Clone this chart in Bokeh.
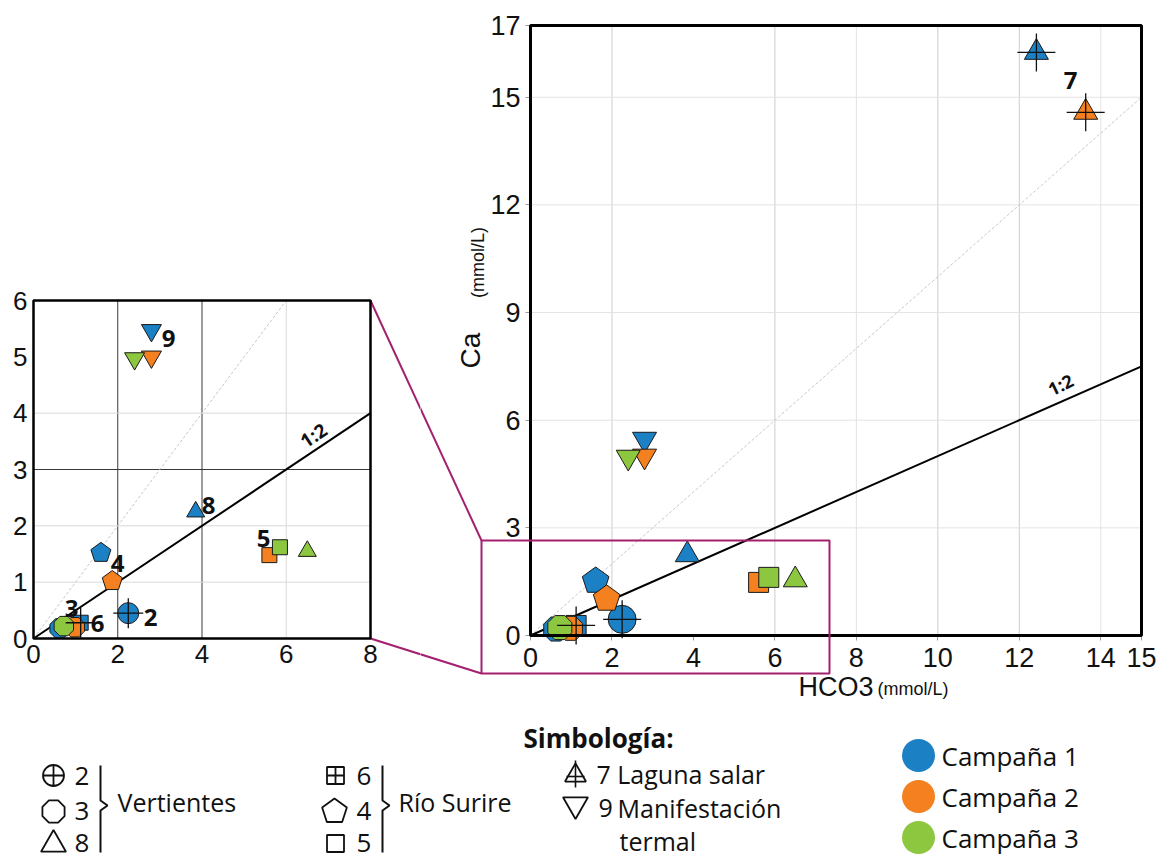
import math
from bokeh.plotting import figure
from bokeh.models import Range1d, LinearAxis, FixedTicker, BoxAnnotation
from bokeh.layouts import column, row
from bokeh.embed import file_html
from bokeh.resources import INLINE
from bokeh.core.properties import value

# ---------------- data ----------------
site     = ["2",  "3",  "3",  "3",  "8",  "8",  "6",  "4",  "4",  "5",  "5",  "7",   "7",   "9",  "9",  "9"]
campaign = [1,    1,    2,    3,    1,    3,    1,    1,    2,    2,    3,    1,     2,     1,    2,    3]
hco3     = [2.25, 0.62, 0.98, 0.72, 3.85, 6.50, 1.12, 1.60, 1.87, 5.60, 5.85, 12.42, 13.63, 2.80, 2.80, 2.40]
ca       = [0.45, 0.18, 0.20, 0.22, 2.25, 1.55, 0.28, 1.52, 1.02, 1.48, 1.62, 16.25, 14.58, 5.47, 5.00, 4.97]

campaign_names  = ["Campaña 1", "Campaña 2", "Campaña 3"]
campaign_colors = ["#1c80c4", "#f4801f", "#8dc63f"]

main_x_ticks  = [0, 2, 4, 6, 8, 10, 12, 14, 15]
main_y_ticks  = [0, 3, 6, 9, 12, 15, 17]
inset_x_ticks = [0, 2, 4, 6, 8]
inset_y_ticks = [0, 1, 2, 3, 4, 5, 6]
main_xmax, main_ymax = 15, 17
inset_xmax, inset_ymax = 8, 6

main_vgrid_dark  = [2, 6, 10, 12]
main_vgrid_light = [8, 14]
main_hgrid       = [3, 6, 9, 12, 15]
inset_vgrid_dark  = [2, 4]
inset_vgrid_light = [6]
inset_hgrid_dark  = [3]
inset_hgrid_light = [1, 2, 4]

ratio_11 = 1.0
ratio_12 = 0.5

site_shape = {"2": "circle", "3": "octagon", "8": "triangle", "6": "square",
              "4": "pentagon", "5": "square", "7": "triangle", "9": "inverted_triangle"}
crossed_sites = ["2", "6", "7"]

TICK_FONT = "Liberation Sans"
TXT_FONT = "Open Sans"
OUT = "#1a1a1a"
MAGENTA = "#a3206f"


class Frame:
    """maps page pixels to data values, given the pixel positions of two data values"""
    def __init__(self, px_a, px_b, xa, xb, py_a, py_b, ya, yb):
        self.px_a, self.xa = px_a, xa
        self.py_a, self.ya = py_a, ya
        self.sx = (px_b - px_a) / (xb - xa)
        self.sy = (py_a - py_b) / (yb - ya)

    def x(self, px):
        return self.xa + (px - self.px_a) / self.sx

    def y(self, py):
        return self.ya + (self.py_a - py) / self.sy


MAIN = Frame(530, 1141, 0, main_xmax, 635, 25, 0, main_ymax)
INSET = Frame(33, 370, 0, inset_xmax, 638, 300, 0, inset_ymax)
LEFT, SPLIT, RIGHT = 0, 420, 1161
TOP, BOTTOM, PAGE_BOTTOM = 0, 712, 858


def make_fig(fr, left, right):
    p = figure(width=right - left, height=BOTTOM - TOP,
               x_range=Range1d(fr.x(left), fr.x(right)),
               y_range=Range1d(fr.y(BOTTOM), fr.y(TOP)),
               x_axis_type=None, y_axis_type=None,
               output_backend="svg", toolbar_location=None, min_border=0)
    p.outline_line_color = None
    p.background_fill_color = "white"
    p.border_fill_color = "white"
    return p


def add_axes(p, xticks, yticks, font_size, tick_out, xstand, ystand):
    xa = LinearAxis(fixed_location=0, ticker=FixedTicker(ticks=xticks))
    ya = LinearAxis(fixed_location=0, ticker=FixedTicker(ticks=yticks))
    for a in (xa, ya):
        a.axis_line_color = None
        a.major_tick_in = 0
        a.major_tick_out = tick_out
        a.major_tick_line_color = "#9a9a9a"
        a.minor_tick_line_color = None
        a.major_label_text_font = TICK_FONT
        a.major_label_text_font_size = font_size
        a.major_label_text_color = "#111111"
    xa.major_label_standoff = xstand
    ya.major_label_standoff = ystand
    p.add_layout(xa, "below")
    p.add_layout(ya, "left")


def add_grid(p, xmax, ymax, vdark, vlight, hdark, hlight, dark, light):
    for vals, col in ((vlight, light), (vdark, dark)):
        if vals:
            p.segment(x0=vals, y0=[0] * len(vals), x1=vals, y1=[ymax] * len(vals),
                      line_color=col, line_width=1)
    for vals, col in ((hlight, light), (hdark, dark)):
        if vals:
            p.segment(x0=[0] * len(vals), y0=vals, x1=[xmax] * len(vals), y1=vals,
                      line_color=col, line_width=1)
    # 1:1 reference (faint dashed)
    x_end = min(xmax, ymax / ratio_11)
    p.line([0, x_end], [0, x_end * ratio_11], line_color="#c8c8c8", line_width=1, line_dash="3 2")
    # 1:2 reference
    x_end = min(xmax, ymax / ratio_12)
    p.line([0, x_end], [0, x_end * ratio_12], line_color="black", line_width=2)


def draw_points(p, sizes, ngon_r, cross_size, line_w=1):
    n = len(site)
    for c in (1, 2, 3):
        color = campaign_colors[c - 1]
        for shape in ("circle", "octagon", "triangle", "square", "pentagon", "inverted_triangle"):
            idx = [i for i in range(n) if campaign[i] == c and site_shape[site[i]] == shape]
            if not idx:
                continue
            xs = [hco3[i] for i in idx]
            ys = [ca[i] for i in idx]
            if shape in ("octagon", "pentagon"):
                nn = 8 if shape == "octagon" else 5
                ang = math.pi / 8 if shape == "octagon" else 0
                p.ngon(x=xs, y=ys, radius=ngon_r[shape], radius_units="screen", n=nn, angle=ang,
                       fill_color=color, line_color=OUT, line_width=line_w)
            else:
                p.scatter(x=xs, y=ys, marker=shape, size=sizes[shape],
                          fill_color=color, line_color=OUT, line_width=line_w)
    idx = [i for i in range(n) if site[i] in crossed_sites]
    p.scatter(x=[hco3[i] for i in idx], y=[ca[i] for i in idx], marker="cross",
              size=cross_size, line_color="#111111", line_width=1.3)


def frame_box(xmax, ymax, width):
    return BoxAnnotation(left=0, right=xmax, bottom=0, top=ymax, fill_alpha=0,
                         line_color="black", line_alpha=1.0, line_width=width)


# ---------------- inset (zoom of the low range) ----------------
inset = make_fig(INSET, LEFT, SPLIT)
add_grid(inset, inset_xmax, inset_ymax, inset_vgrid_dark, inset_vgrid_light,
         inset_hgrid_dark, inset_hgrid_light, "#3a3a3a", "#d9d9d9")
draw_points(inset, {"circle": 21, "triangle": 18, "square": 15, "inverted_triangle": 20},
            {"octagon": 10.5, "pentagon": 10.5}, 30)
add_axes(inset, inset_x_ticks, inset_y_ticks, "26px", 0, 6, 6)
inset.add_layout(frame_box(inset_xmax, inset_ymax, 2.5))

inset_lbl_text = ["9", "8", "5", "4", "3", "6", "2"]
inset_lbl_px = [(168, 338), (208, 505), (263, 538), (117, 563), (71, 608), (97, 623), (150, 617)]
inset.text(x=[INSET.x(a) for a, b in inset_lbl_px], y=[INSET.y(b) for a, b in inset_lbl_px],
           text=inset_lbl_text, text_font=value(TXT_FONT), text_font_style="bold",
           text_font_size="24px", text_align="center", text_baseline="middle", text_color="#111111")
inset.text(x=[INSET.x(313)], y=[INSET.y(435)], text=["1:2"], angle=0.59,
           text_font=value(TXT_FONT), text_font_style="bold", text_font_size="19px",
           text_align="center", text_baseline="middle", text_color="#111111")

# connectors of the zoom box (drawn in both figures, each clips to its own part)
conn_px = [((370, 300), (481, 540)), ((370, 638), (481, 673))]
inset.segment(x0=[INSET.x(a[0]) for a, b in conn_px], y0=[INSET.y(a[1]) for a, b in conn_px],
              x1=[INSET.x(b[0]) for a, b in conn_px], y1=[INSET.y(b[1]) for a, b in conn_px],
              line_color=MAGENTA, line_width=2)

# ---------------- main chart ----------------
main = make_fig(MAIN, SPLIT, RIGHT)
add_grid(main, main_xmax, main_ymax, main_vgrid_dark, main_vgrid_light,
         [], main_hgrid, "#cdcdcd", "#e3e3e3")
draw_points(main, {"circle": 28, "triangle": 24, "square": 20, "inverted_triangle": 24},
            {"octagon": 13, "pentagon": 14}, 38)
add_axes(main, main_x_ticks, main_y_ticks, "27px", 5, 7, 5)
main.add_layout(frame_box(main_xmax, main_ymax, 3))
main.add_layout(BoxAnnotation(left=MAIN.x(481), right=MAIN.x(829), bottom=MAIN.y(673), top=MAIN.y(540),
                              fill_alpha=0, line_color=MAGENTA, line_alpha=1.0, line_width=2))
main.segment(x0=[MAIN.x(a[0]) for a, b in conn_px], y0=[MAIN.y(a[1]) for a, b in conn_px],
             x1=[MAIN.x(b[0]) for a, b in conn_px], y1=[MAIN.y(b[1]) for a, b in conn_px],
             line_color=MAGENTA, line_width=2)

main.text(x=[MAIN.x(1070)], y=[MAIN.y(80)], text=["7"], text_font=value(TXT_FONT),
          text_font_style="bold", text_font_size="24px", text_align="center",
          text_baseline="middle", text_color="#111111")
main.text(x=[MAIN.x(1060)], y=[MAIN.y(384)], text=["1:2"], angle=0.45,
          text_font=value(TXT_FONT), text_font_style="bold", text_font_size="18px",
          text_align="center", text_baseline="middle", text_color="#111111")
# axis titles
main.text(x=[MAIN.x(470)], y=[MAIN.y(350)], text=["Ca"], angle=math.pi / 2,
          text_font=value(TICK_FONT), text_font_size="28px", text_align="center",
          text_baseline="middle", text_color="#111111")
main.text(x=[MAIN.x(477)], y=[MAIN.y(262)], text=["(mmol/L)"], angle=math.pi / 2,
          text_font=value(TICK_FONT), text_font_size="18px", text_align="center",
          text_baseline="middle", text_color="#111111")
main.text(x=[MAIN.x(873)], y=[MAIN.y(686)], text=["HCO3"],
          text_font=value(TICK_FONT), text_font_size="27px", text_align="right",
          text_baseline="middle", text_color="#111111")
main.text(x=[MAIN.x(877)], y=[MAIN.y(688)], text=["(mmol/L)"],
          text_font=value(TICK_FONT), text_font_size="18px", text_align="left",
          text_baseline="middle", text_color="#111111")

# ---------------- legend (page-pixel coordinates) ----------------
leg = figure(width=RIGHT - LEFT, height=PAGE_BOTTOM - BOTTOM,
             x_range=Range1d(LEFT, RIGHT), y_range=Range1d(PAGE_BOTTOM, BOTTOM),
             x_axis_type=None, y_axis_type=None, output_backend="svg",
             toolbar_location=None, min_border=0)
leg.outline_line_color = None


def ltext(xs, ys, txt, size="25px", style="normal", align="left"):
    leg.text(x=xs, y=ys, text=txt, text_font=value(TXT_FONT), text_font_size=size,
             text_font_style=style, text_align=align, text_baseline="middle",
             text_color="#111111")


sym_style = dict(fill_color="white", line_color="#111111", line_width=1.8)
# Vertientes group
leg.scatter(x=[53], y=[775], marker="circle_cross", size=21, **sym_style)
leg.ngon(x=[53], y=[811], radius=12, radius_units="screen", n=8, angle=math.pi / 8, **sym_style)
leg.scatter(x=[53], y=[844], marker="triangle", size=25, **sym_style)
ltext([74, 74, 74], [775, 810, 842], ["2", "3", "8"], size="26px")
# Río Surire group
leg.scatter(x=[335], y=[775], marker="square_cross", size=17, **sym_style)
leg.ngon(x=[334], y=[811], radius=13, radius_units="screen", n=5, angle=0, **sym_style)
leg.scatter(x=[335], y=[843], marker="square", size=17, **sym_style)
ltext([356, 356, 356], [775, 810, 842], ["6", "4", "5"], size="26px")
# braces
for bx in (100, 382):
    leg.line(x=[bx, bx, bx + 7, bx, bx], y=[765, 800, 805, 810, 852], line_color="#111111", line_width=2)
ltext([117, 398], [801, 801], ["Vertientes", "Río Surire"])
# Simbología
ltext([523], [737], ["Simbología:"], size="26px", style="bold")
leg.scatter(x=[575], y=[775], marker="triangle", size=21, **sym_style)
leg.segment(x0=[575, 566], y0=[760, 776], x1=[575, 584], y1=[787, 776], line_color="#111111", line_width=1.6)
leg.scatter(x=[575], y=[804], marker="inverted_triangle", size=25, **sym_style)
ltext([596, 598, 617, 619], [773, 807, 807, 840], ["7 Laguna salar", "9", "Manifestación", "termal"])
# campaigns
leg.scatter(x=[918, 918, 918], y=[755, 796, 837], marker="circle", size=33,
            fill_color=campaign_colors, line_color=None)
ltext([941, 941, 941], [755, 796, 837], campaign_names, size="26px")

layout = column(row(inset, main), leg)
open("out.html", "w").write(file_html(layout, INLINE))
